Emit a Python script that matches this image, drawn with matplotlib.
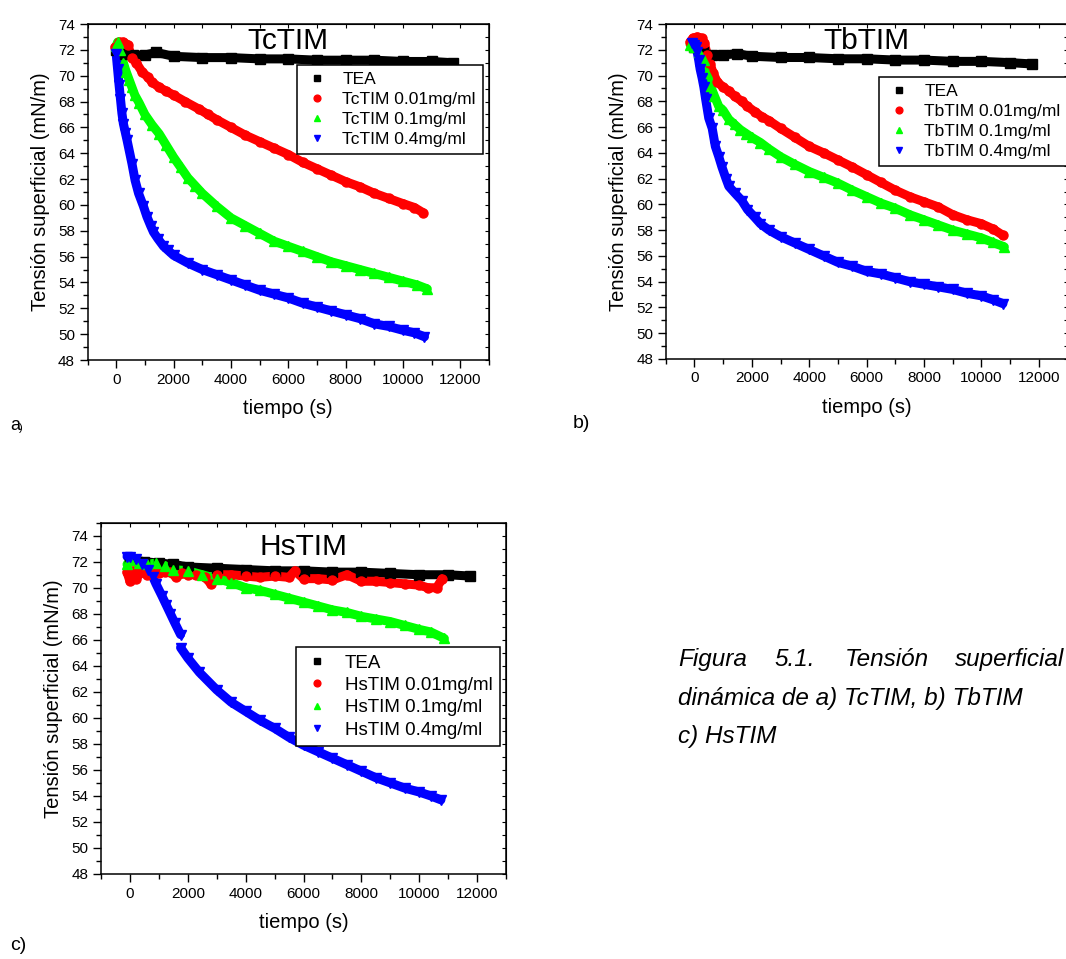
import matplotlib
matplotlib.use("Agg")
import matplotlib.pyplot as plt
from matplotlib.ticker import MultipleLocator

plt.rcParams['font.family'] = ['Liberation Sans', 'DejaVu Sans']

# ---------------- data ----------------
# panel a) TcTIM
tea_a_t = [0, 300, 600, 1000, 1400, 2000, 3000, 4000, 5000, 6000, 7000, 8000, 9000, 10000, 11000, 11750]
tea_a = [72.0, 71.7, 71.6, 71.6, 71.8, 71.5, 71.4, 71.4, 71.3, 71.3, 71.2, 71.2, 71.2, 71.1, 71.1, 71.0]
red_a_t = [-30, 100, 250, 400, 550, 700, 900, 1100, 1250, 1500, 1750, 2000, 2400, 2900, 3200, 3500,
           4000, 4500, 5000, 5500, 6000, 6500, 7000, 7500, 8000, 8500, 9000, 9500, 10000, 10400, 10700]
red_a = [72.2, 72.6, 72.6, 72.4, 71.4, 71.0, 70.3, 69.9, 69.5, 69.1, 68.8, 68.5, 68.0, 67.4, 67.0, 66.6,
         66.0, 65.4, 64.9, 64.4, 63.9, 63.3, 62.8, 62.3, 61.8, 61.4, 60.9, 60.5, 60.1, 59.8, 59.4]
green_a_t = [0, 50, 150, 250, 350, 450, 550, 650, 800, 1000, 1250, 1500, 1750, 2000, 2250, 2500, 2750,
             3000, 3500, 4000, 4500, 5000, 5500, 6000, 6500, 7000, 7500, 8000, 8500, 9000, 9500, 10000,
             10500, 10850]
green_a = [72.3, 72.6, 72.0, 71.0, 70.3, 69.7, 69.1, 68.5, 67.9, 67.0, 66.2, 65.5, 64.6, 63.7, 62.9, 62.1,
           61.5, 60.9, 59.9, 59.0, 58.4, 57.8, 57.2, 56.8, 56.4, 56.0, 55.6, 55.3, 55.0, 54.7, 54.4, 54.1,
           53.8, 53.5]
blue_a_t = [0, 50, 100, 150, 200, 250, 320, 380, 550, 660, 780, 950, 1070, 1200, 1300, 1450, 1650, 1800,
            2000, 2500, 3000, 3500, 4000, 4500, 5000, 5500, 6000, 6500, 7000, 7500, 8000, 8500, 9000,
            9500, 10000, 10400, 10750]
blue_a = [71.7, 70.5, 69.3, 68.2, 67.1, 66.3, 65.6, 65.0, 63.2, 61.9, 60.9, 59.9, 59.1, 58.4, 57.9, 57.4,
          56.8, 56.5, 56.1, 55.5, 55.0, 54.6, 54.2, 53.8, 53.4, 53.1, 52.8, 52.4, 52.1, 51.8, 51.5, 51.2,
          50.8, 50.6, 50.3, 50.1, 49.8]

# panel b) TbTIM
tea_b_t = [0, 300, 600, 1000, 1500, 2000, 3000, 4000, 5000, 6000, 7000, 8000, 9000, 10000, 11000, 11750]
tea_b = [72.2, 71.8, 71.6, 71.6, 71.7, 71.5, 71.4, 71.4, 71.3, 71.3, 71.2, 71.2, 71.1, 71.1, 71.0, 70.9]
red_b_t = [-150, -50, 100, 250, 350, 450, 550, 650, 800, 1000, 1200, 1400, 1650, 1850, 2100, 2350, 2600,
           3000, 3500, 4000, 4500, 5000, 5500, 6000, 6500, 7000, 7500, 8000, 8500, 9000, 9500, 10000,
           10400, 10750]
red_b = [72.6, 72.9, 73.0, 72.9, 72.5, 71.6, 70.9, 70.2, 69.5, 69.1, 68.8, 68.4, 68.0, 67.6, 67.2, 66.8,
         66.5, 65.9, 65.2, 64.5, 64.0, 63.45, 62.9, 62.3, 61.7, 61.1, 60.6, 60.2, 59.8, 59.2, 58.8, 58.5,
         58.1, 57.6]
green_b_t = [-150, 0, 150, 330, 450, 560, 700, 850, 1000, 1200, 1400, 1600, 1800, 2000, 2300, 2600, 3000,
             3500, 4000, 4500, 5000, 5500, 6000, 6500, 7000, 7500, 8000, 8500, 9000, 9500, 10000, 10400,
             10800]
green_b = [72.4, 72.2, 71.8, 71.2, 70.2, 69.2, 68.4, 67.6, 67.3, 66.6, 66.2, 65.8, 65.5, 65.2, 64.8, 64.3,
           63.7, 63.1, 62.55, 62.1, 61.65, 61.1, 60.6, 60.1, 59.7, 59.2, 58.8, 58.4, 58.0, 57.7, 57.4,
           57.05, 56.7]
blue_b_t = [-100, 0, 50, 100, 150, 200, 270, 330, 390, 500, 620, 730, 850, 960, 1100, 1200, 1400, 1650,
            1850, 2100, 2300, 2600, 3000, 3500, 4000, 4500, 5000, 5500, 6000, 6500, 7000, 7500, 8000,
            8500, 9000, 9500, 10000, 10400, 10750]
blue_b = [72.5, 72.4, 72.2, 71.8, 71.2, 70.5, 69.8, 69.1, 68.2, 66.7, 65.9, 64.5, 63.7, 62.9, 62.0, 61.4,
          60.9, 60.3, 59.6, 59.0, 58.5, 58.0, 57.5, 57.0, 56.5, 56.0, 55.5, 55.2, 54.8, 54.6, 54.3, 54.0,
          53.8, 53.6, 53.4, 53.1, 52.9, 52.6, 52.3]

# panel c) HsTIM
tea_c_t = [0, 500, 1000, 1500, 2000, 3000, 4000, 5000, 6000, 7000, 8000, 9000, 10000, 11000, 11750]
tea_c = [72.2, 72.0, 71.9, 71.8, 71.6, 71.5, 71.4, 71.3, 71.3, 71.2, 71.2, 71.1, 71.0, 71.0, 70.9]
red_c_t = [-100, 0, 100, 200, 400, 600, 800, 1000, 1200, 1400, 1600, 1800, 2000, 2300, 2600, 2800, 3000,
           3500, 4000, 4500, 5000, 5500, 5700, 6000, 6500, 7000, 7500, 8000, 8500, 9000, 9500, 10000,
           10300, 10600, 10800]
red_c = [71.2, 70.5, 71.3, 70.7, 71.2, 71.0, 71.2, 71.1, 71.2, 71.2, 70.8, 71.1, 71.0, 71.0, 70.8, 70.3,
         71.0, 71.0, 70.9, 70.8, 70.9, 70.8, 71.3, 70.7, 70.7, 70.6, 71.0, 70.5, 70.5, 70.4, 70.3, 70.2,
         70.0, 70.0, 70.7]
green_c_t = [-100, 0, 300, 600, 900, 1200, 1500, 2000, 2500, 3000, 3500, 4000, 4500, 5000, 5500, 6000,
             6500, 7000, 7500, 8000, 8500, 9000, 9500, 10000, 10400, 10870]
green_c = [71.8, 72.1, 71.9, 71.8, 71.9, 71.7, 71.4, 71.3, 71.0, 70.7, 70.4, 70.0, 69.8, 69.5, 69.2, 68.9,
           68.6, 68.3, 68.1, 67.8, 67.6, 67.4, 67.1, 66.8, 66.6, 66.1]
blue_c1_t = [-100, 0, 200, 400, 620, 800, 900, 1100, 1250, 1400, 1550, 1750]
blue_c1 = [72.4, 72.4, 72.2, 71.8, 71.4, 70.8, 70.3, 69.4, 68.7, 68.0, 67.3, 66.4]
blue_c2_t = [1750, 2000, 2400, 3000, 3500, 4000, 4500, 5000, 5500, 6000, 6500, 7000, 7500, 8000, 8500,
             9000, 9500, 10000, 10400, 10750]
blue_c2 = [65.4, 64.6, 63.5, 62.15, 61.2, 60.5, 59.8, 59.2, 58.5, 57.9, 57.4, 56.9, 56.4, 55.9, 55.4,
           55.0, 54.6, 54.3, 54.0, 53.7]

W, H = 1066, 959
fig = plt.figure(figsize=(W / 100, H / 100), dpi=100)


def px_axes(left, top, right, bottom):
    return fig.add_axes([left / W, 1 - bottom / H, (right - left) / W, (bottom - top) / H])


def series(ax, t, y, color, marker, label, ms=6.5):
    ax.plot(t, y, color=color, lw=6.5, solid_capstyle='round', zorder=2)
    if label is None:
        ax.plot(t, y, ls='none', marker=marker, color=color, ms=ms, zorder=3)
    else:
        ax.plot(t, y, ls='none', marker=marker, color=color, ms=ms, zorder=3, label=label)


def style(ax, ymax):
    ax.set_xlim(-1000, 13000)
    ax.set_ylim(48, ymax)
    ax.xaxis.set_major_locator(MultipleLocator(2000))
    ax.xaxis.set_minor_locator(MultipleLocator(1000))
    ax.yaxis.set_major_locator(MultipleLocator(2))
    ax.yaxis.set_minor_locator(MultipleLocator(1))
    ax.tick_params(which='major', direction='out', length=6, width=1, labelsize=11, pad=3)
    ax.tick_params(which='minor', direction='out', length=3.5, width=1)
    for s in ax.spines.values():
        s.set_linewidth(1.1)
    top = ax.secondary_xaxis('top')
    top.xaxis.set_major_locator(MultipleLocator(1000))
    top.tick_params(direction='in', length=3, labeltop=False)
    right = ax.secondary_yaxis('right')
    right.yaxis.set_major_locator(MultipleLocator(1))
    right.tick_params(direction='in', length=3, labelright=False)
    ax.set_xlabel('tiempo (s)', fontsize=14.5, labelpad=9)
    ax.set_ylabel('Tensión superficial (mN/m)', fontsize=14.5, labelpad=6)


def draw(ax, name, data, legpos, legfs, titley):
    (tt, ty), (rt, ry), (gt, gy), blue = data
    series(ax, tt, ty, 'black', 's', 'TEA')
    series(ax, rt, ry, '#ff0000', 'o', name + ' 0.01mg/ml')
    series(ax, gt, gy, '#00ff00', '^', name + ' 0.1mg/ml')
    first = True
    for bt, by in blue:
        series(ax, bt, by, '#0000ff', 'v', name + ' 0.4mg/ml' if first else None)
        first = False
    ax.text(0.5, titley, name, transform=ax.transAxes, ha='center', va='center', fontsize=21.5)
    leg = ax.legend(loc='upper left', bbox_to_anchor=legpos, borderaxespad=0, fontsize=legfs,
                    frameon=True, fancybox=False, framealpha=1, edgecolor='black',
                    borderpad=0.4, handlelength=1.5, handletextpad=0.7, labelspacing=0.28,
                    markerscale=0.75)
    leg.get_frame().set_linewidth(1.1)


ax_a = px_axes(87.5, 24, 489, 360)
style(ax_a, 74)
draw(ax_a, 'TcTIM', [(tea_a_t, tea_a), (red_a_t, red_a), (green_a_t, green_a), [(blue_a_t, blue_a)]],
     (0.522, 0.878), 12.5, 0.948)

ax_b = px_axes(665.7, 24, 1067.5, 359)
style(ax_b, 74)
draw(ax_b, 'TbTIM', [(tea_b_t, tea_b), (red_b_t, red_b), (green_b_t, green_b), [(blue_b_t, blue_b)]],
     (0.531, 0.842), 12.5, 0.948)

ax_c = px_axes(101, 522.7, 506, 874)
style(ax_c, 75)
draw(ax_c, 'HsTIM', [(tea_c_t, tea_c), (red_c_t, red_c), (green_c_t, green_c),
                     [(blue_c1_t, blue_c1), (blue_c2_t, blue_c2)]],
     (0.481, 0.646), 13.5, 0.93)

# panel letters
fig.text(10 / W, 1 - 425 / H, 'a', fontsize=13, va='center', ha='left')
fig.text(19 / W, 1 - 428 / H, ')', fontsize=8, va='center', ha='left')
fig.text(573 / W, 1 - 423 / H, 'b)', fontsize=14, va='center', ha='left')
fig.text(10 / W, 1 - 946 / H, 'c)', fontsize=14, va='center', ha='left')

# caption (justified first line, clipped at the right edge like the page)
cap = dict(fontsize=17.5, style='italic', family=['Liberation Sans', 'DejaVu Sans'],
           va='baseline', ha='left')
for word, x in [('Figura', 678), ('5.1.', 774), ('Tensión', 845), ('superficial', 955)]:
    fig.text(x / W, 1 - 666 / H, word, **cap)
fig.text(678 / W, 1 - 705 / H, 'dinámica de a) TcTIM, b) TbTIM', **cap)
fig.text(678 / W, 1 - 743 / H, 'c) HsTIM', **cap)

fig.savefig('out.png', dpi=100)
